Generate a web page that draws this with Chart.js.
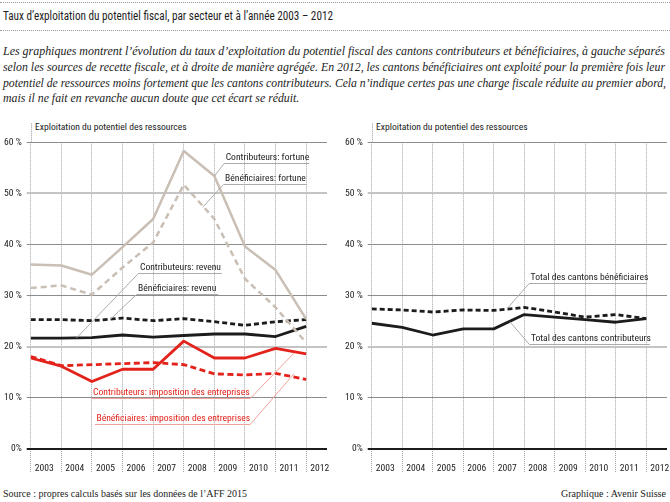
<!DOCTYPE html>
<html><head><meta charset="utf-8">
<script src="https://cdn.jsdelivr.net/npm/chart.js@4.4.1/dist/chart.umd.min.js"></script>
<style>
html,body{margin:0;padding:0;background:#fff;}
body{width:670px;height:502px;position:relative;overflow:hidden;font-family:"Roboto Condensed","DejaVu Sans Condensed",sans-serif;color:#222;}
.dots{position:absolute;left:0;width:670px;height:0;border-top:1px dotted #9a9a9a;}
.fit{position:absolute;white-space:nowrap;transform-origin:0 0;}
#title{left:3px;top:7px;font-size:13.5px;line-height:16px;color:#1e1e1e;}
.desc{left:3px;font-family:"Liberation Serif",serif;font-style:italic;font-size:12.5px;line-height:15px;}
.hdr{position:absolute;font-size:9.6px;line-height:12px;white-space:nowrap;color:#222;}
.foot{font-family:"Liberation Serif",serif;font-size:11px;line-height:13px;}
canvas{position:absolute;top:120px;}
</style></head>
<body>
<div class="dots" style="top:2px"></div>
<div id="title" class="fit" data-w="330">Taux d’exploitation du potentiel fiscal, par secteur et à l’année 2003 – 2012</div>
<div class="dots" style="top:30px"></div>
<div class="desc fit" data-w="662" style="top:44px">Les graphiques montrent l’évolution du taux d’exploitation du potentiel fiscal des cantons contributeurs et bénéficiaires, à gauche séparés</div>
<div class="desc fit" data-w="662" style="top:60px">selon les sources de recette fiscale, et à droite de manière agrégée. En 2012, les cantons bénéficiaires ont exploité pour la première fois leur</div>
<div class="desc fit" data-w="663" style="top:76px">potentiel de ressources moins fortement que les cantons contributeurs. Cela n’indique certes pas une charge fiscale réduite au premier abord,</div>
<div class="desc fit" data-w="avg" style="top:91px">mais il ne fait en revanche aucun doute que cet écart se réduit.</div>
<div class="hdr" style="left:35px;top:121px">Exploitation du potentiel des ressources</div>
<div class="hdr" style="left:376px;top:121px">Exploitation du potentiel des ressources</div>
<canvas id="left" width="335" height="362" style="left:0"></canvas>
<canvas id="right" width="335" height="362" style="left:335px"></canvas>
<div class="foot fit" data-w="244" style="left:3px;top:487px">Source : propres calculs basés sur les données de l’AFF 2015</div>
<div class="foot fit" data-w="105" style="left:561px;top:487px">Graphique : Avenir Suisse</div>
<script>
// ---------- data ----------
const years = [2003, 2004, 2005, 2006, 2007, 2008, 2009, 2010, 2011, 2012];
const yTickValues = [0, 10, 20, 30, 40, 50, 60];
const yTickLabels = ['0%', '10 %', '20 %', '30 %', '40 %', '50 %', '60 %'];

const contribFortune     = [36.1, 35.9, 34.1, 39.5, 45.0, 58.3, 53.4, 39.6, 35.0, 25.4];
const benefFortune       = [31.5, 32.0, 30.2, 35.5, 40.4, 51.7, 45.0, 33.3, 27.7, 20.8];
const contribRevenu      = [21.7, 21.7, 21.8, 22.3, 21.9, 22.2, 22.5, 22.5, 22.0, 24.0];
const benefRevenu        = [25.3, 25.3, 25.1, 25.6, 25.1, 25.5, 24.9, 24.2, 24.9, 25.3];
const contribEntreprises = [17.8, 16.2, 13.2, 15.6, 15.6, 21.1, 17.8, 17.8, 19.7, 18.6];
const benefEntreprises   = [18.1, 16.3, 16.5, 16.7, 16.9, 16.5, 14.7, 14.5, 14.8, 13.6];
const totalContrib       = [24.6, 23.8, 22.3, 23.5, 23.5, 26.3, 25.8, 25.3, 24.8, 25.5];
const totalBenef         = [27.4, 27.2, 26.8, 27.2, 27.1, 27.7, 26.8, 25.8, 26.3, 25.5];

// ---------- text fitting ----------
(function fitTexts(){
  const els = Array.from(document.querySelectorAll('.fit'));
  const scales = [];
  els.forEach(el => {
    const w = el.getBoundingClientRect().width;
    const t = el.dataset.w;
    if (t !== 'avg') { const s = (+t) / w; el.style.transform = 'scaleX(' + s + ')'; if (el.classList.contains('desc')) scales.push(s); }
  });
  els.forEach(el => {
    if (el.dataset.w === 'avg') { const s = scales.reduce((a,b)=>a+b,0)/scales.length; el.style.transform = 'scaleX(' + s + ')'; }
  });
})();

// ---------- styles ----------
const FONT = "'Roboto Condensed','DejaVu Sans Condensed',sans-serif";
const FSIZE = 9.6;
const TAUPE = '#c9bfb4', BLACK = '#1c1c1c', RED = '#e3231b';
const GREYLINE = '#ababab', PINKLINE = '#f2a19c';

function ds(data, color, dashed, width) {
  return {
    data: data.map((v, i) => ({ x: years[i], y: v })),
    borderColor: color, borderWidth: width,
    borderDash: dashed || [], pointRadius: 0, pointHoverRadius: 0,
    fill: false, tension: 0, borderCapStyle: 'butt', borderJoinStyle: 'round'
  };
}

const decor = {
  id: 'decor',
  beforeDatasetsDraw(chart) {
    const { ctx, chartArea, scales: { x } } = chart;
    const px = Math.round(x.getPixelForValue(years[0])) + 0.5;
    ctx.save();
    ctx.strokeStyle = '#9c9c9c'; ctx.lineWidth = 1; ctx.setLineDash([1, 1]);
    ctx.beginPath(); ctx.moveTo(px, chartArea.top - 19); ctx.lineTo(px, chartArea.top); ctx.stroke();
    ctx.restore();
  },
  afterDatasetsDraw(chart, args, opts) {
    const { ctx, scales: { x, y } } = chart;
    ctx.save();
    for (const a of opts.items || []) {
      const X1 = x.getPixelForValue(a.x1), X2 = x.getPixelForValue(a.x2), Y = Math.round(y.getPixelForValue(a.y)) + 0.5;
      const PX = x.getPixelForValue(a.px), PY = y.getPixelForValue(a.py);
      ctx.setLineDash([]);
      ctx.strokeStyle = a.line; ctx.lineWidth = 1;
      ctx.beginPath();
      ctx.moveTo(PX, PY);
      ctx.lineTo(a.from === 'end' ? X2 : X1, Y);
      ctx.stroke();
      ctx.beginPath(); ctx.moveTo(X1, Y); ctx.lineTo(X2, Y); ctx.stroke();
      ctx.fillStyle = a.color;
      ctx.font = FSIZE + 'px ' + FONT;
      ctx.textBaseline = 'alphabetic'; ctx.textAlign = 'left';
      ctx.fillText(a.text, X1 + 1.5, Y - 4);
    }
    ctx.restore();
  }
};

function makeChart(id, datasets, yAxisWidth, padRight, items) {
  return new Chart(document.getElementById(id), {
    type: 'line',
    data: { datasets },
    plugins: [decor],
    options: {
      responsive: false, animation: false, devicePixelRatio: 1,
      layout: { padding: { top: 22.3, right: padRight, bottom: 9, left: 0 } },
      plugins: { legend: { display: false }, tooltip: { enabled: false }, decor: { items } },
      scales: {
        x: {
          type: 'linear', min: 2003, max: 2012.68,
          afterBuildTicks: s => { s.ticks = years.map(v => ({ value: v })); },
          afterFit: s => { s.height = 24; },
          grid: { color: '#a4a4a4', lineWidth: 1, tickLength: 24, tickColor: '#a4a4a4', tickBorderDash: [1, 1], drawTicks: true },
          border: { display: false, dash: [1, 1] },
          ticks: { align: 'start', labelOffset: 4, padding: -10, color: '#222', autoSkip: false, maxRotation: 0,
                   font: { family: FONT, size: FSIZE }, callback: v => String(v) }
        },
        y: {
          min: 0, max: 60,
          afterBuildTicks: s => { s.ticks = yTickValues.map(v => ({ value: v })); },
          afterFit: s => { s.width = yAxisWidth; },
          grid: {
            color: c => c.tick && c.tick.value === 0 ? '#1c1c1c' : (c.tick && (c.tick.value === 20 || c.tick.value === 50) ? '#c4c4c4' : '#8c8c8c'),
            lineWidth: c => c.tick && (c.tick.value === 0 || c.tick.value === 20 || c.tick.value === 50) ? 2 : 1,
            tickColor: c => c.tick && c.tick.value === 0 ? '#1c1c1c' : (c.tick && (c.tick.value === 20 || c.tick.value === 50) ? '#c4c4c4' : '#8c8c8c'),
            tickLength: 4
          },
          border: { display: false },
          ticks: { padding: 5, color: '#222', font: { family: FONT, size: FSIZE },
                   callback: (v) => yTickLabels[yTickValues.indexOf(v)] }
        }
      }
    }
  });
}

makeChart('left', [
  ds(contribFortune, TAUPE, null, 2.5),
  ds(benefFortune, TAUPE, [6, 4], 2.5),
  ds(benefRevenu, BLACK, [5, 3], 2.8),
  ds(contribRevenu, BLACK, null, 2.8),
  ds(benefEntreprises, RED, [6, 3.5], 2.8),
  ds(contribEntreprises, RED, null, 2.8)
], 30.7, 8, [
  { text: 'Contributeurs: fortune', color: '#222', line: GREYLINE, x1: 2009.32, x2: 2012.10, y: 55.9, px: 2009, py: 53.4, from: 'start' },
  { text: 'Bénéficiaires: fortune', color: '#222', line: GREYLINE, x1: 2009.30, x2: 2012.02, y: 51.8, px: 2008.62, py: 47.3, from: 'start' },
  { text: 'Contributeurs: revenu', color: '#222', line: GREYLINE, x1: 2006.52, x2: 2009.24, y: 34.45, px: 2004.50, py: 21.75, from: 'start' },
  { text: 'Bénéficiaires: revenu', color: '#222', line: GREYLINE, x1: 2006.46, x2: 2009.13, y: 30.35, px: 2005.59, py: 25.3, from: 'start' },
  { text: 'Contributeurs: imposition des entreprises', color: RED, line: PINKLINE, x1: 2004.99, x2: 2010.17, y: 10.0, px: 2011.6, py: 18.75, from: 'end' },
  { text: 'Bénéficiaires: imposition des entreprises', color: RED, line: PINKLINE, x1: 2005.10, x2: 2010.17, y: 4.95, px: 2011.6, py: 14.7, from: 'end' }
]);

makeChart('right', [
  ds(totalBenef, BLACK, [5, 3], 2.8),
  ds(totalContrib, BLACK, null, 2.8)
], 36.7, 3, [
  { text: 'Total des cantons bénéficiaires', color: '#222', line: GREYLINE, x1: 2008.16, x2: 2012.02, y: 32.4, px: 2007.43, py: 27.4, from: 'start' },
  { text: 'Total des cantons contributeurs', color: '#222', line: GREYLINE, x1: 2008.17, x2: 2012.12, y: 20.5, px: 2007.53, py: 24.9, from: 'start' }
]);
</script>
</body></html>
